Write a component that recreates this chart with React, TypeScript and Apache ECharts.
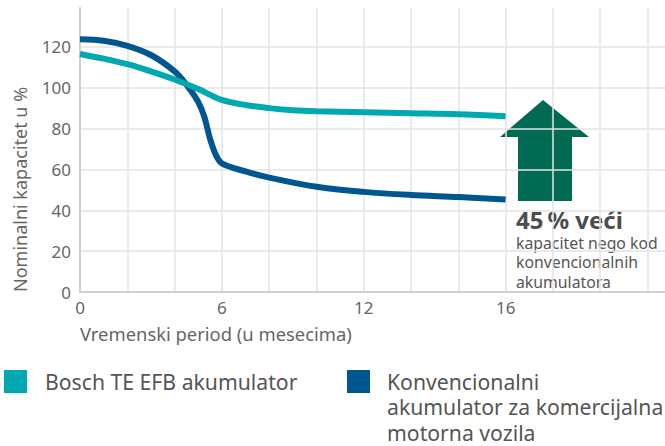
import React, { useEffect, useRef } from "react";
import * as echarts from "echarts";

// x in grid steps (labels below), y in %
const xTickLabels = ["0", "", "", "6", "", "", "12", "", "", "16", "", "", ""];
const yTicks = [0, 20, 40, 60, 80, 100, 120];

const efbX = [0, 0.5, 1, 1.5, 2, 2.5, 3, 3.5, 4, 4.5, 5, 6, 7, 8, 9];
const efbY = [116.5, 114.2, 111.5, 108, 104, 99.3, 94, 91.5, 90, 89, 88.5, 88, 87.5, 87, 86];

const convX = [0, 0.5, 1, 1.5, 2, 2.25, 2.5, 2.625, 2.75, 2.875, 3, 3.5, 4, 5, 6, 7, 8, 9];
const convY = [123.7, 123, 120.5, 116, 108, 101.5, 93, 86, 75, 67, 63, 59, 56, 51.5, 49, 47.5, 46.5, 45.3];

const seriesNames = ["Bosch TE EFB akumulator", "Konvencionalni\nakumulator za komercijalna\nmotorna vozila"];
const seriesColors = ["#00a8b0", "#005691"];

const annotationTitle = "45\u202f% veći";
const annotationLines = ["kapacitet nego kod", "konvencionalnih", "akumulatora"];

const FONT = "'Noto Sans', sans-serif";

export default function App() {
  const ref = useRef<HTMLDivElement>(null);
  useEffect(() => {
    const chart = echarts.init(ref.current!, null, { renderer: "svg" });
    const zip = (xs: number[], ys: number[]) => xs.map((x, i) => [x, ys[i]]);
    chart.setOption({
      animation: false,
      textStyle: { fontFamily: FONT },
      grid: { left: 80, right: 0, top: 8, height: 284 },
      xAxis: {
        type: "value",
        min: 0,
        max: 12.37,
        interval: 1,
        axisLine: { show: true, lineStyle: { color: "#d0d0d0", width: 2 } },
        axisTick: { show: false },
        splitLine: { show: true, showMinLine: false, showMaxLine: false, lineStyle: { color: "#e3e3e3", width: 1.5 } },
        axisLabel: {
          color: "#666",
          fontSize: 17,
          margin: 7,
          showMaxLabel: false,
          formatter: (v: number) => xTickLabels[Math.round(v)] ?? "",
        },
      },
      yAxis: {
        type: "value",
        min: 0,
        max: 139,
        interval: 20,
        axisLine: { show: true, lineStyle: { color: "#d0d0d0", width: 2 } },
        axisTick: { show: false },
        splitLine: { show: true, showMinLine: false, showMaxLine: false, lineStyle: { color: "#e3e3e3", width: 1.5 } },
        axisLabel: {
          color: "#666",
          fontSize: 17,
          margin: 9,
          showMaxLabel: false,
          formatter: (v: number) => (yTicks.includes(v) ? String(v) : ""),
        },
      },
      series: [
        {
          type: "line",
          name: seriesNames[0],
          data: zip(efbX, efbY),
          smooth: 0.35,
          showSymbol: false,
          lineStyle: { color: seriesColors[0], width: 6 },
          z: 3,
        },
        {
          type: "line",
          name: seriesNames[1],
          data: zip(convX, convY),
          smooth: 0.35,
          showSymbol: false,
          lineStyle: { color: seriesColors[1], width: 6 },
          z: 2,
        },
      ],
      graphic: [
        {
          type: "text",
          x: 20,
          y: 292,
          rotation: Math.PI / 2,
          style: { text: "Nominalni kapacitet u %", fill: "#666", font: `18px ${FONT}`, textAlign: "left", textVerticalAlign: "middle" },
        },
        {
          type: "text",
          x: 80,
          y: 333,
          style: { text: "Vremenski period (u mesecima)", fill: "#666", font: `18.4px ${FONT}`, textVerticalAlign: "middle" },
        },
        {
          type: "polygon",
          shape: {
            points: [
              [543, 100], [589, 137], [572, 137], [572, 201], [518, 201], [518, 137], [500, 137],
            ],
          },
          style: { fill: "#006a52" },
        },
        {
          type: "text",
          x: 516,
          y: 219,
          style: { text: annotationTitle, fill: "#4d4d4d", font: `bold 24px ${FONT}`, textVerticalAlign: "middle" },
        },
        ...annotationLines.map((t, i) => ({
          type: "text",
          x: 516,
          y: 243.2 + i * 19.2,
          style: { text: t, fill: "#555", font: `15.8px ${FONT}`, textVerticalAlign: "middle" },
        })),
        { type: "rect", shape: { x: 4, y: 370, width: 23, height: 23 }, style: { fill: seriesColors[0] } },
        {
          type: "text",
          left: 45,
          top: 369,
          style: { text: seriesNames[0], fill: "#555", font: `21.2px ${FONT}`, lineHeight: 25.5 },
        },
        { type: "rect", shape: { x: 347, y: 370, width: 23, height: 23 }, style: { fill: seriesColors[1] } },
        {
          type: "text",
          left: 387,
          top: 369,
          style: { text: seriesNames[1], fill: "#555", font: `21.2px ${FONT}`, lineHeight: 25.3 },
        },
      ],
    });
    return () => chart.dispose();
  }, []);
  return <div ref={ref} style={{ width: 665, height: 446, position: "absolute", left: 0, top: 0 }} />;
}
